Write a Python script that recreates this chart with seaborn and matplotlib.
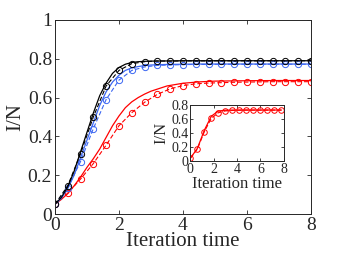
import numpy as np
import pandas as pd
import matplotlib
matplotlib.use("Agg")
import matplotlib.pyplot as plt
import seaborn as sns

# theory curves (solid)
t_theory = [0, 0.2, 0.4, 0.6, 0.8, 1.0, 1.2, 1.4, 1.6, 1.8, 2.0, 2.2, 2.4, 2.6, 2.8, 3.0,
            3.5, 4.0, 4.5, 5.0, 6.0, 7.0, 8.0]
black_theory = [0.05, 0.085, 0.14, 0.22, 0.32, 0.42, 0.52, 0.61, 0.675, 0.725, 0.755, 0.772, 0.781,
                0.785, 0.787, 0.788, 0.789, 0.79, 0.79, 0.79, 0.79, 0.79, 0.79]
blue_theory = [0.05, 0.08, 0.13, 0.2, 0.29, 0.38, 0.47, 0.56, 0.63, 0.68, 0.715, 0.74, 0.753,
               0.76, 0.765, 0.768, 0.771, 0.772, 0.773, 0.773, 0.773, 0.773, 0.773]
red_theory = [0.05, 0.075, 0.105, 0.145, 0.19, 0.24, 0.285, 0.335, 0.395, 0.455, 0.505, 0.548, 0.578,
              0.60, 0.618, 0.633, 0.66, 0.674, 0.681, 0.685, 0.687, 0.688, 0.688]

# simulation (dashed with circles)
t_sim = [0, 0.4, 0.8, 1.2, 1.6, 2.0, 2.4, 2.8, 3.2, 3.6, 4.0, 4.4, 4.8, 5.2, 5.6, 6.0,
         6.4, 6.8, 7.2, 7.6, 8.0]
black_sim = [0.05, 0.145, 0.31, 0.50, 0.66, 0.74, 0.775, 0.785, 0.789, 0.788, 0.789, 0.789, 0.789,
             0.79, 0.789, 0.79, 0.789, 0.79, 0.789, 0.79, 0.79]
blue_sim = [0.05, 0.135, 0.27, 0.44, 0.59, 0.69, 0.74, 0.758, 0.766, 0.768, 0.77, 0.771, 0.771,
            0.772, 0.772, 0.772, 0.772, 0.772, 0.772, 0.772, 0.772]
red_sim = [0.05, 0.107, 0.18, 0.26, 0.355, 0.455, 0.522, 0.576, 0.617, 0.645, 0.662, 0.671, 0.675,
           0.677, 0.679, 0.68, 0.681, 0.682, 0.682, 0.682, 0.682]

# inset
t_inset = [0, 0.6, 1.2, 1.8, 2.4, 3.0, 3.6, 4.2, 4.8, 5.4, 6.0, 6.6, 7.2, 7.8]
inset_theory = [0.04, 0.18, 0.44, 0.64, 0.715, 0.725, 0.727, 0.728, 0.728, 0.728, 0.728, 0.728, 0.728, 0.728]
inset_sim = [0.04, 0.17, 0.42, 0.61, 0.69, 0.715, 0.722, 0.725, 0.727, 0.727, 0.727, 0.727, 0.727, 0.727]

x_ticks = [0, 2, 4, 6, 8]
y_ticks = [0, 0.2, 0.4, 0.6, 0.8, 1]
y_tick_labels = ["0", "0.2", "0.4", "0.6", "0.8", "1"]
inset_y_ticks = [0, 0.2, 0.4, 0.6, 0.8]
inset_y_tick_labels = ["0", "0.2", "0.4", "0.6", "0.8"]

BLUE = "#3b66f2"

sns.set_style("ticks")
plt.rcParams["font.family"] = ["Liberation Serif", "DejaVu Serif"]
plt.rcParams["xtick.direction"] = "in"
plt.rcParams["ytick.direction"] = "in"
plt.rcParams["axes.linewidth"] = 0.7

fig = plt.figure(figsize=(3.43, 2.58), dpi=100)
ax = fig.add_axes([0.160, 0.1705, 0.747, 0.752])

for yth, ysim, c in [(red_theory, red_sim, "red"), (blue_theory, blue_sim, BLUE),
                     (black_theory, black_sim, "black")]:
    sns.lineplot(x=t_theory, y=yth, ax=ax, color=c, lw=0.9, linestyle="-")
    sns.lineplot(x=t_sim, y=ysim, ax=ax, color=c, lw=0.8, marker="o", ms=4.5,
                 mfc="none", mec=c, mew=0.7, linestyle=(0, (4, 2)))

ax.set_xlim(0, 8)
ax.set_ylim(0, 1)
ax.set_xticks(x_ticks)
ax.set_yticks(y_ticks)
ax.set_yticklabels(y_tick_labels)
ax.tick_params(labelsize=14, length=3, width=0.6, top=True, right=True, pad=2)
ax.set_xlabel("Iteration time", fontsize=15, labelpad=-1)
ax.set_ylabel("I/N", fontsize=15, labelpad=2)

ins = fig.add_axes([0.555, 0.376, 0.272, 0.217])
sns.lineplot(x=t_inset, y=inset_theory, ax=ins, color="red", lw=0.9, linestyle="-")
sns.lineplot(x=t_inset, y=inset_sim, ax=ins, color="red", lw=0.8, marker="o", ms=4,
             mfc="none", mec="red", mew=0.7, linestyle=(0, (4, 2)))
ins.set_xlim(0, 8)
ins.set_ylim(0, 0.8)
ins.set_xticks(x_ticks)
ins.set_yticks(inset_y_ticks)
ins.set_yticklabels(inset_y_tick_labels)
ins.tick_params(labelsize=10, length=2.5, width=0.6, top=True, right=True, pad=1.5)
ins.set_xlabel("Iteration time", fontsize=12, labelpad=0)
ins.set_ylabel("I/N", fontsize=12, labelpad=1)

fig.savefig("out.png", dpi=100)
